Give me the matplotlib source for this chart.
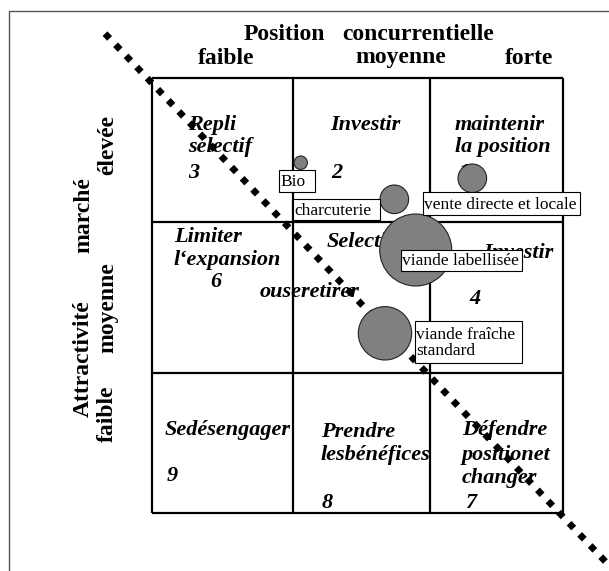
import matplotlib
matplotlib.use("Agg")
import matplotlib.pyplot as plt
from matplotlib.patches import Circle, Rectangle

# pixel-like coordinates, origin top-left (same as the picture)
W, H = 609, 571

# grid of the matrix (cell borders)
grid_x = [152, 292.5, 430, 563]
grid_y = [77.5, 221.5, 373, 513]

# products (bubbles)
products = ["Bio", "charcuterie", "vente directe et locale", "viande labellisée", "viande fraîche\nstandard"]
prod_x = [300.7, 394.3, 472.3, 415.7, 385.0]
prod_y = [162.7, 199.3, 178.3, 250.0, 333.3]
prod_r = [6.7, 14.3, 14.3, 36.0, 26.7]

# label boxes for the products: left, top, right, bottom
label_boxes = [
    (279.3, 170.0, 315.3, 192.3),
    (293.3, 199.3, 380.0, 220.0),
    (422.7, 192.3, 580.0, 215.0),
    (400.7, 250.0, 522.0, 270.7),
    (415.0, 321.0, 522.3, 363.3),
]

# strategy texts in the cells: text, left x, baseline y
cell_texts = [
    ("Repli", 188, 130), ("sélectif", 188, 152), ("3", 188, 178),
    ("Investir", 330, 130), ("2", 331, 178),
    ("maintenir", 455, 130), ("la position", 455, 152), ("1", 458, 178),
    ("Limiter", 174, 242), ("l\u2018expansion", 174, 265), ("6", 210, 287),
    ("Selectionner", 327, 247), ("ouseretirer", 260, 297),
    ("Investir", 483, 258), ("4", 469, 304),
    ("Sedésengager", 165, 435), ("9", 167, 481),
    ("Prendre", 321, 437), ("lesbénéfices", 321, 460), ("8", 322, 508),
    ("Défendre", 462, 435), ("positionet", 462, 460), ("changer", 462, 483), ("7", 465, 508),
]

# axis headings: text, left x, baseline y
top_texts = [
    ("Position", 244, 40), ("concurrentielle", 342, 40),
    ("faible", 198, 63.5), ("moyenne", 355, 63.5), ("forte", 505, 64),
]
# rotated headings: text, baseline x, start y (bottom)
side_texts = [
    ("Attractivité", 89, 417), ("marché", 89, 253),
    ("faible", 113, 442), ("moyenne", 113, 353), ("élevée", 113, 175),
]

# dotted diagonal
diag_start = (105.0, 33.6)
diag_slope = 1.055

serif = "Liberation Serif"

fig = plt.figure(figsize=(W / 100, H / 100), dpi=100)
ax = fig.add_axes([0, 0, 1, 1])
ax.set_xlim(0, W)
ax.set_ylim(H, 0)
ax.axis("off")

# outer frame (goes past the right and bottom edges)
ax.add_patch(Rectangle((9, 10.5), 700, 700, fill=False, ec="#555555", lw=1.0, zorder=1))

# matrix grid
ax.vlines(grid_x, grid_y[0], grid_y[-1], colors="black", lw=1.6, zorder=2)
ax.hlines(grid_y, grid_x[0], grid_x[-1], colors="black", lw=1.6, zorder=2)

for txt, x, y in cell_texts:
    ax.text(x, y, txt, ha="left", va="baseline", fontsize=16, family=serif,
            fontweight="bold", fontstyle="italic", zorder=3)

for txt, x, y in top_texts:
    ax.text(x, y, txt, ha="left", va="baseline", fontsize=17, family=serif,
            fontweight="bold", zorder=3)

for txt, x, y in side_texts:
    ax.text(x, y, txt, ha="left", va="baseline", rotation=90, rotation_mode="anchor",
            fontsize=17, family=serif, fontweight="bold", zorder=3)

# diagonal made of diamonds (dotted thick line at ~46 deg)
x_end = 625
ax.plot([diag_start[0], x_end],
        [diag_start[1], diag_start[1] + (x_end - diag_start[0]) * diag_slope],
        color="black", lw=4.8, linestyle=(0, (1, 1.3)), dash_capstyle="butt", zorder=4)

# bubbles
for x, y, r in zip(prod_x, prod_y, prod_r):
    ax.add_patch(Circle((x, y), r, fc="#808080", ec="#222222", lw=0.8, zorder=5))

# labels
for name, (l, t, r, b) in zip(products, label_boxes):
    ax.add_patch(Rectangle((l, t), r - l, b - t, fc="white", ec="black", lw=0.8, zorder=6))
    ax.text(l + 1.5, (t + b) / 2 + 1, name, ha="left", va="center", fontsize=12.5,
            family=serif, linespacing=1.0, zorder=7)

fig.savefig("out.png", dpi=100)
